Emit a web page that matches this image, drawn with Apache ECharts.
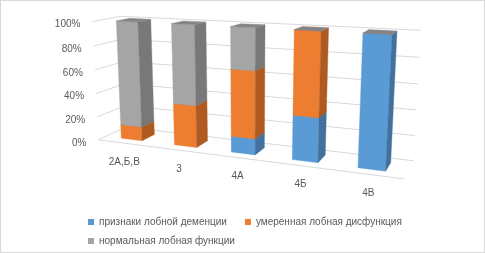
<!DOCTYPE html>
<html><head><meta charset="utf-8">
<script src="https://cdn.jsdelivr.net/npm/echarts@6/dist/echarts.min.js"></script>
<style>
html,body{margin:0;padding:0;background:#fff}
#c{width:485px;height:253px;position:absolute;left:0;top:0}
#b{position:absolute;left:0;top:0;width:485px;height:253px;box-sizing:border-box;border:1px solid #d9d9d9;pointer-events:none}
</style>
</head><body><div id="c"></div><div id="b"></div><script>
// ---- data ----
const categories = ['2А,Б,В', '3', '4А', '4Б', '4В'];
const dementia = [0, 0, 13, 35, 100];
const moderate = [12, 35, 54, 65, 0];
const normal = [88, 65, 33, 0, 0];
const tickValues = [0, 20, 40, 60, 80, 100];
const tickLabels = ['0%', '20%', '40%', '60%', '80%', '100%'];
const seriesNames = ['признаки лобной деменции', 'умеренная лобная дисфункция', 'нормальная лобная функции'];

// ---- styles / 3D view ----
const layers = [dementia, moderate, normal];
const front = ['#5B9BD5', '#ED7D31', '#A5A5A5'];
const side = ['#41719C', '#AE5A21', '#787878'];
const topc = ['#4E86B9', '#C8692A', '#858585'];
const W = 485, H = 253, PX = 248, PY = 89, F = 667;
const YAW = 22 * Math.PI / 180, PITCH = 12.35 * Math.PI / 180, DIST = 10.3;
const HW = 1.96, DEPTH = 0.85, BW = 0.40, BD = 0.40, BZ0 = (DEPTH - BD) / 2;
const NCAT = categories.length;
const T = [NCAT / 2, HW / 2, DEPTH / 2];
const ca = Math.cos(YAW), sa = Math.sin(YAW), cb = Math.cos(PITCH), sb = Math.sin(PITCH);
function proj(x, v, z) {
  const px = x - T[0], py = v * HW - T[1], pz = z - T[2];
  const x1 = px * ca + pz * sa;
  const z1 = -px * sa + pz * ca;
  const y2 = py * cb + z1 * sb;
  const z2 = -py * sb + z1 * cb;
  const d = z2 + DIST;
  return [x1 / d, y2 / d];
}
const textColor = '#595959';
const FONT = 'Liberation Sans, Arial, sans-serif';

function barSeries(k) {
  return {
    type: 'custom', name: seriesNames[k], coordinateSystem: 'cartesian2d', z: 3,
    itemStyle: { color: front[k] },
    data: categories.map((c, i) => [i, layers[k][i]]),
    renderItem: (params, api) => {
      const i = api.value(0), val = api.value(1);
      let base = 0;
      for (let j = 0; j < k; j++) base += layers[j][i];
      const v0 = base / 100, v1 = (base + val) / 100;
      const x0 = i + 0.5 - BW / 2, x1 = i + 0.5 + BW / 2, z0 = BZ0, z1 = BZ0 + BD;
      const P = (x, vv, z) => api.coord(proj(x, vv, z));
      const poly = (pts, col) => ({ type: 'polygon', shape: { points: pts }, style: { fill: col, stroke: col, lineWidth: 0.4 } });
      const ch = [];
      if (val > 0) {
        ch.push(poly([P(x0, v0, z0), P(x1, v0, z0), P(x1, v1, z0), P(x0, v1, z0)], front[k]));
        ch.push(poly([P(x1, v0, z0), P(x1, v0, z1), P(x1, v1, z1), P(x1, v1, z0)], side[k]));
      }
      if (val > 0 || k === layers.length - 1) {
        ch.push(poly([P(x0, v1, z0), P(x1, v1, z0), P(x1, v1, z1), P(x0, v1, z1)], topc[k]));
      }
      return { type: 'group', children: ch };
    }
  };
}

const wallSeries = {
  type: 'custom', coordinateSystem: 'cartesian2d', z: 1, silent: true,
  data: tickValues.map((t, i) => [i, t]),
  renderItem: (params, api) => {
    const idx = api.value(0), v = api.value(1) / 100;
    const P = (x, vv, z) => api.coord(proj(x, vv, z));
    const ls = { stroke: '#d9d9d9', lineWidth: 1, fill: null };
    const ch = [
      { type: 'polyline', shape: { points: [P(0, v, 0), P(0, v, DEPTH), P(NCAT, v, DEPTH)] }, style: ls }
    ];
    if (idx === 0) {
      ch.push({ type: 'polyline', shape: { points: [P(0, 0, 0), P(NCAT, 0, 0)] }, style: ls });
    }
    const lp = P(0, v, 0);
    ch.push({ type: 'text', x: lp[0] - 12, y: lp[1] + 3,
      style: { text: tickLabels[idx], fill: textColor, font: '10px ' + FONT, align: 'right', verticalAlign: 'middle' } });
    return { type: 'group', children: ch };
  }
};

const catSeries = {
  type: 'custom', coordinateSystem: 'cartesian2d', z: 1, silent: true,
  data: categories.map((c, i) => [i, 0]),
  renderItem: (params, api) => {
    const i = api.value(0);
    const p = api.coord(proj(i + 0.5, 0, 0));
    return { type: 'text', x: p[0], y: p[1] + 19,
      style: { text: categories[i], fill: textColor, font: '10px ' + FONT, align: 'center', verticalAlign: 'middle' } };
  }
};

const chart = echarts.init(document.getElementById('c'));
const legendBase = { icon: 'rect', itemWidth: 6, itemHeight: 6, itemGap: 18, left: 83,
  textStyle: { color: textColor, fontSize: 10, fontFamily: FONT }, selectedMode: false };
chart.setOption({
  animation: false,
  grid: { left: 0, right: 0, top: 0, bottom: 0 },
  xAxis: { type: 'value', min: -PX / F, max: (W - PX) / F, show: false },
  yAxis: { type: 'value', min: -(H - PY) / F, max: PY / F, show: false },
  legend: [
    Object.assign({}, legendBase, { top: 212, data: [seriesNames[0], seriesNames[1]] }),
    Object.assign({}, legendBase, { top: 231, data: [seriesNames[2]] })
  ],
  series: [wallSeries, catSeries, barSeries(0), barSeries(1), barSeries(2)]
});
</script></body></html>
